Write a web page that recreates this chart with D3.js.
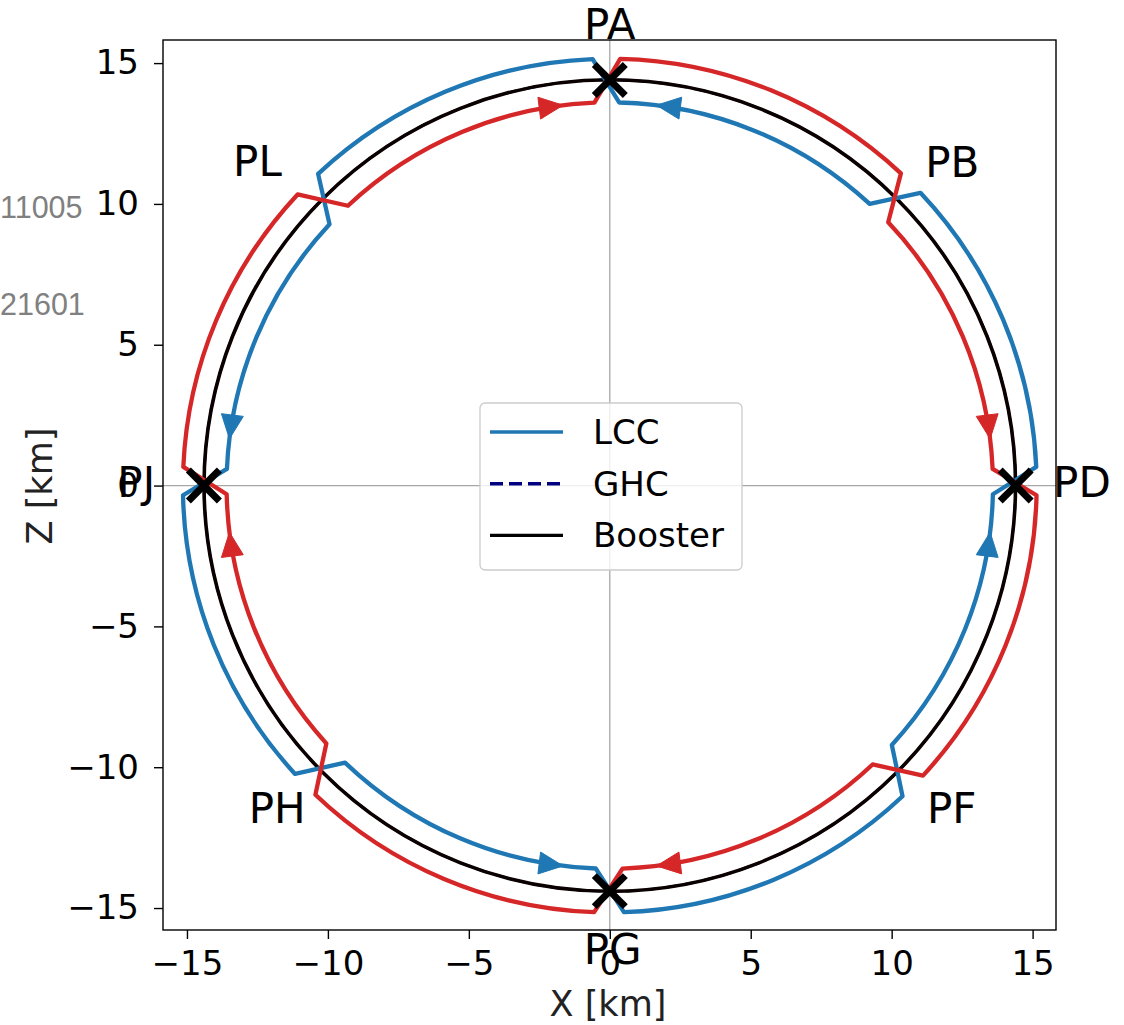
<!DOCTYPE html>
<html>
<head>
<meta charset="utf-8">
<script src="https://cdn.jsdelivr.net/npm/d3@7"></script>
<style>
  body { margin: 0; background: #fff; }
  svg { display: block; }
  text { font-family: "DejaVu Sans", sans-serif; fill: #000; }
</style>
</head>
<body>
<svg id="chart" width="1124" height="1025"></svg>
<script>
// ring radii in km
const boosterR = 14.4;
const innerR = 13.6;
const outerR = 15.15;

// ring vertices, [angle deg (counter-clockwise from +X), radius km]
const lccRing = [
    [-1.3, innerR], [2.5, outerR], [43.3, outerR], [47.3, innerR],
    [88.6, innerR], [92.3, outerR], [133.1, outerR], [137.0, innerR],
    [177.5, innerR], [181.3, outerR], [222.5, outerR], [226.3, innerR],
    [267.9, innerR], [271.9, outerR], [313.3, outerR], [317.4, innerR],
    [358.7, innerR],
];
const redRing = [
    [-1.3, outerR], [2.5, innerR], [43.4, innerR], [47.0, outerR],
    [88.6, outerR], [92.3, innerR], [133.1, innerR], [137.0, outerR],
    [177.5, outerR], [181.3, innerR], [222.3, innerR], [226.4, outerR],
    [267.9, outerR], [271.9, innerR], [313.3, innerR], [317.2, outerR],
    [358.7, outerR],
];

// arrow tips (deg) on inner ring
const lccArrows = [83, 173, 263, 353];
const redArrows = [97, 187, 277, 7];

// interaction points (crosses)
const ipAngles = [0, 90, 180, 270];

// point labels (km)
const pointNames = ["PA", "PB", "PD", "PF", "PG", "PH", "PJ", "PL"];
const pointX = [0, 12.15, 16.75, 12.13, 0.1, -11.8, -16.8, -12.5];
const pointY = [16.4, 11.5, 0.12, -11.42, -16.45, -11.43, 0.12, 11.52];

const xTicks = [-15, -10, -5, 0, 5, 10, 15];
const yTicks = [-15, -10, -5, 0, 5, 10, 15];

const legendNames = ["LCC", "GHC", "Booster"];
const legendColors = ["#1f77b4", "#000080", "#000000"];
const legendDash = [null, "13,6", null];

const sideNotes = ["11005", "21601"];

const svg = d3.select("#chart");

const x = d3.scaleLinear().domain([-15.85, 15.83]).range([163, 1056]);
const y = d3.scaleLinear().domain([-15.78, 15.82]).range([930, 40]);

const cx = x(0), cy = y(0);
const px = r => ((x(r) - x(0)) + (y(0) - y(r))) / 2;
const rad = d => d * Math.PI / 180;

// side notes
svg.selectAll(".note").data(sideNotes).enter().append("text")
    .attr("class", "note")
    .attr("x", 0)
    .attr("y", (d, i) => 218 + i * 97)
    .style("font-family", "'Liberation Sans', sans-serif")
    .style("font-size", "30.5px")
    .style("fill", "#808080")
    .text(d => d);

// cross hair
svg.append("line")
    .attr("x1", cx).attr("x2", cx).attr("y1", y.range()[1]).attr("y2", y.range()[0])
    .attr("stroke", "#a8a8a8").attr("stroke-width", 1.3);
svg.append("line")
    .attr("x1", x.range()[0]).attr("x2", x.range()[1]).attr("y1", cy).attr("y2", cy)
    .attr("stroke", "#a8a8a8").attr("stroke-width", 1.3);

// GHC under the booster, then booster
svg.append("circle")
    .attr("cx", cx).attr("cy", cy).attr("r", px(boosterR))
    .attr("fill", "none").attr("stroke", "#000080")
    .attr("stroke-width", 2.6).attr("stroke-dasharray", "13,6");
svg.append("circle")
    .attr("cx", cx).attr("cy", cy).attr("r", px(boosterR))
    .attr("fill", "none").attr("stroke", "#0a0000").attr("stroke-width", 3.6);

const ringPath = verts => {
    const p = d3.path();
    const a0 = rad(verts[0][0]);
    p.moveTo(cx + px(verts[0][1]) * Math.cos(a0), cy - px(verts[0][1]) * Math.sin(a0));
    for (let i = 1; i < verts.length; i++) {
        const [t0, r0] = verts[i - 1];
        const [t1, r1] = verts[i];
        if (r0 === r1) {
            p.arc(cx, cy, px(r1), -rad(t0), -rad(t1), true);
        } else {
            p.lineTo(cx + px(r1) * Math.cos(rad(t1)), cy - px(r1) * Math.sin(rad(t1)));
        }
    }
    p.closePath();
    return p.toString();
};

const drawRing = (verts, color) => {
    svg.append("path")
        .attr("d", ringPath(verts))
        .attr("fill", "none")
        .attr("stroke", color)
        .attr("stroke-width", 4.3)
        .attr("stroke-linejoin", "round");
};

const drawArrows = (tips, color, dir) => {
    svg.selectAll(null).data(tips).enter().append("path")
        .attr("d", function(d) {
            const t = rad(d);
            const r = px(innerR);
            const tx = cx + r * Math.cos(t), ty = cy - r * Math.sin(t);
            // screen tangent in travel direction
            const ux = -Math.sin(t) * dir, uy = -Math.cos(t) * dir;
            const len = 24, hw = 11;
            const bx = tx - ux * len, by = ty - uy * len;
            return "M" + tx + "," + ty +
                "L" + (bx - uy * hw) + "," + (by + ux * hw) +
                "L" + (bx + uy * hw) + "," + (by - ux * hw) + "Z";
        })
        .attr("fill", color)
        .attr("stroke", color)
        .attr("stroke-width", 1)
        .attr("stroke-linejoin", "round");
};

drawRing(lccRing, "#1f77b4");
drawRing(redRing, "#d62728");
drawArrows(lccArrows, "#1f77b4", 1);
drawArrows(redArrows, "#d62728", -1);

// crosses at the interaction points
const ip = svg.selectAll(".ip").data(ipAngles).enter().append("g")
    .attr("class", "ip")
    .attr("transform", d => "translate(" + x(boosterR * Math.cos(rad(d))) + "," + y(boosterR * Math.sin(rad(d))) + ")");
ip.append("line").attr("x1", -15.5).attr("y1", -15.5).attr("x2", 15.5).attr("y2", 15.5)
    .attr("stroke", "#000").attr("stroke-width", 7);
ip.append("line").attr("x1", -15.5).attr("y1", 15.5).attr("x2", 15.5).attr("y2", -15.5)
    .attr("stroke", "#000").attr("stroke-width", 7);

// frame
svg.append("rect")
    .attr("x", x.range()[0]).attr("y", y.range()[1])
    .attr("width", x.range()[1] - x.range()[0])
    .attr("height", y.range()[0] - y.range()[1])
    .attr("fill", "none").attr("stroke", "#000").attr("stroke-width", 1.4);

// axes
const xAxis = svg.append("g")
    .attr("transform", "translate(0," + y.range()[0] + ")")
    .call(d3.axisBottom(x).tickValues(xTicks).tickSize(9).tickPadding(12));
const yAxis = svg.append("g")
    .attr("transform", "translate(" + x.range()[0] + ",0)")
    .call(d3.axisLeft(y).tickValues(yTicks).tickSize(9).tickPadding(15));
[xAxis, yAxis].forEach(a => {
    a.select(".domain").remove();
    a.selectAll(".tick line").attr("stroke-width", 1.4);
    a.selectAll(".tick text")
        .style("font-family", "'DejaVu Sans', sans-serif")
        .style("font-size", "34px")
        .attr("fill", "#000");
});

// legend
const legend = svg.append("g").attr("transform", "translate(480,403)");
legend.append("rect")
    .attr("width", 262).attr("height", 167).attr("rx", 5)
    .attr("fill", "#fff").attr("fill-opacity", 0.8)
    .attr("stroke", "#cccccc").attr("stroke-width", 1.3);
const items = legend.selectAll(".item").data(legendNames).enter().append("g")
    .attr("class", "item")
    .attr("transform", (d, i) => "translate(0," + (29 + i * 51.7) + ")");
items.append("line")
    .attr("x1", 10).attr("x2", 83)
    .attr("stroke", (d, i) => legendColors[i])
    .attr("stroke-width", 3.4)
    .attr("stroke-dasharray", (d, i) => legendDash[i]);
items.append("text")
    .attr("x", 113).attr("y", 12)
    .style("font-size", "34px")
    .text(d => d);

// point labels
svg.selectAll(".plabel").data(pointNames).enter().append("text")
    .attr("class", "plabel")
    .attr("x", (d, i) => x(pointX[i]))
    .attr("y", (d, i) => y(pointY[i]) + 15.3)
    .attr("text-anchor", "middle")
    .style("font-size", "42px")
    .text(d => d);

// axis titles
svg.append("text")
    .attr("x", 608).attr("y", 1016)
    .attr("text-anchor", "middle")
    .style("font-size", "35px")
    .style("fill", "#222")
    .text("X [km]");
svg.append("text")
    .attr("transform", "translate(52,486) rotate(-90)")
    .attr("text-anchor", "middle")
    .style("font-size", "35px")
    .style("fill", "#222")
    .text("Z [km]");
</script>
</body>
</html>
